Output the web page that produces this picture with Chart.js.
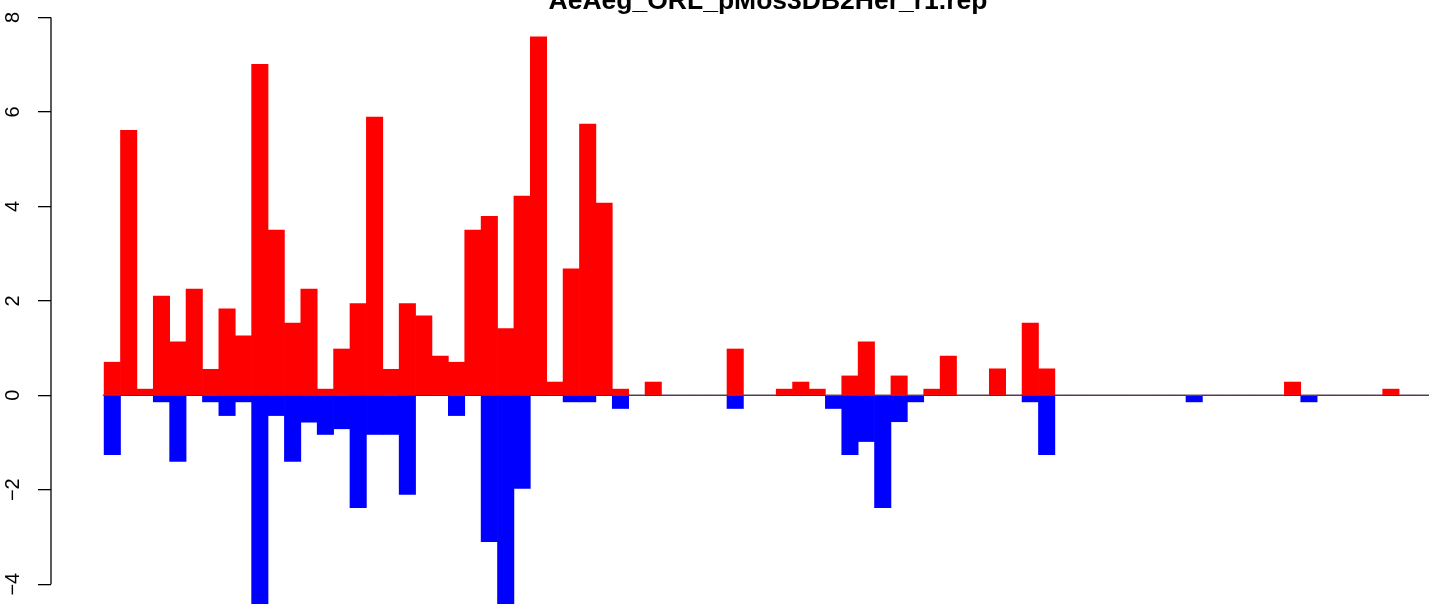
<!DOCTYPE html>
<html>
<head>
<meta charset="utf-8">
<script src="https://cdn.jsdelivr.net/npm/chart.js@4/dist/chart.umd.min.js"></script>
<style>
  html, body { margin: 0; padding: 0; background: #ffffff; overflow: hidden; }
  #wrap { width: 1429px; height: 604px; overflow: hidden; position: relative; }
  #c { position: absolute; left: 0; top: 0; }
</style>
</head>
<body>
<div id="wrap"><canvas id="c" width="1485" height="604"></canvas></div>
<script>
const chartTitle = 'AeAeg_ORL_pMos3DB2Her_r1.rep';

const categories = Array.from({length: 81}, (_, i) => 'bin' + (i + 1));

const positiveValues = [
  0.70, 5.61, 0.13, 2.10, 1.13, 2.25, 0.55, 1.83, 1.26, 7.01,
  3.50, 1.53, 2.25, 0.13, 0.98, 1.94, 5.89, 0.55, 1.94, 1.68,
  0.83, 0.70, 3.50, 3.79, 1.41, 4.22, 7.59, 0.28, 2.68, 5.74,
  4.07, 0.13, 0, 0.28, 0, 0, 0, 0, 0.98, 0,
  0, 0.13, 0.28, 0.13, 0, 0.41, 1.13, 0, 0.41, 0,
  0.13, 0.83, 0, 0, 0.56, 0, 1.53, 0.56, 0, 0,
  0, 0, 0, 0, 0, 0, 0, 0, 0, 0,
  0, 0, 0.28, 0, 0, 0, 0, 0, 0.13, 0,
  0
];

const negativeValues = [
  -1.26, 0, 0, -0.14, -1.40, 0, -0.14, -0.43, -0.14, -4.60,
  -0.43, -1.40, -0.57, -0.83, -0.71, -2.38, -0.83, -0.83, -2.10, 0,
  0, -0.43, 0, -3.10, -4.60, -1.97, 0, 0, -0.14, -0.14,
  0, -0.28, 0, 0, 0, 0, 0, 0, -0.28, 0,
  0, 0, 0, 0, -0.28, -1.26, -0.98, -2.38, -0.56, -0.14,
  0, 0, 0, 0, 0, 0, -0.14, -1.26, 0, 0,
  0, 0, 0, 0, 0, 0, -0.14, 0, 0, 0,
  0, 0, 0, -0.14, 0, 0, 0, 0, 0, 0,
  0
];

const yTickValues = [-4, -2, 0, 2, 4, 6, 8];
const yTickLabels = ['\u22124', '\u22122', '0', '2', '4', '6', '8'];

const N = categories.length;
const toPoints = arr => arr.map((v, i) => ({x: i + 0.5, y: v}));

const axisAndZeroLine = {
  id: 'axisAndZeroLine',
  beforeDatasetsDraw(chart) {
    const {ctx, scales: {x, y}, chartArea} = chart;
    const y0 = y.getPixelForValue(0);
    ctx.save();
    ctx.strokeStyle = '#666666';
    ctx.lineWidth = 1.5;
    ctx.beginPath();
    ctx.moveTo(x.getPixelForValue(0) - 1.3, y0);
    ctx.lineTo(chartArea.right, y0);
    ctx.stroke();
    ctx.restore();
  },
  afterDraw(chart) {
    const {ctx, scales: {y}, chartArea} = chart;
    ctx.save();
    ctx.strokeStyle = '#000000';
    ctx.lineWidth = 1.3;
    ctx.beginPath();
    ctx.moveTo(chartArea.left, y.getPixelForValue(yTickValues[yTickValues.length - 1]));
    ctx.lineTo(chartArea.left, y.getPixelForValue(yTickValues[0]));
    ctx.stroke();
    ctx.restore();
  }
};

new Chart(document.getElementById('c'), {
  type: 'bar',
  data: {
    labels: categories,
    datasets: [
      {
        label: 'up',
        data: toPoints(positiveValues),
        backgroundColor: '#FF0000',
        borderWidth: 0,
        grouped: false,
        categoryPercentage: 1,
        barPercentage: 1
      },
      {
        label: 'down',
        data: toPoints(negativeValues),
        backgroundColor: '#0000FF',
        borderWidth: 0,
        grouped: false,
        categoryPercentage: 1,
        barPercentage: 1
      }
    ]
  },
  options: {
    responsive: false,
    animation: false,
    devicePixelRatio: 1,
    layout: { padding: 0 },
    plugins: {
      legend: { display: false },
      tooltip: { enabled: false },
      title: {
        display: true,
        text: chartTitle,
        fullSize: false,
        color: '#000000',
        font: { family: "'Liberation Sans', Arial, Helvetica, sans-serif", size: 26.5, weight: 'bold', lineHeight: 1.2 },
        padding: { top: -14.4, bottom: -17.4 }
      }
    },
    scales: {
      x: {
        type: 'linear',
        display: false,
        offset: false,
        min: -0.04 * N,
        max: N * 1.04
      },
      y: {
        position: 'left',
        min: -4.42,
        max: 8.37,
        afterBuildTicks: scale => { scale.ticks = yTickValues.map(v => ({value: v})); },
        afterFit: scale => {
          scale.width = 51;
          scale.paddingTop = 0;
          scale.paddingBottom = 0;
          scale.paddingLeft = 0;
          scale.paddingRight = 0;
        },
        border: { display: false },
        grid: {
          drawOnChartArea: false,
          drawTicks: true,
          tickLength: 13,
          color: '#000000',
          lineWidth: 1.3
        },
        ticks: {
          minRotation: 90,
          maxRotation: 90,
          crossAlign: 'center',
          padding: 13.6,
          color: '#000000',
          font: { family: "'Liberation Sans', Arial, Helvetica, sans-serif", size: 20 },
          callback: value => {
            const idx = yTickValues.indexOf(value);
            return idx >= 0 ? yTickLabels[idx] : '';
          }
        }
      }
    }
  },
  plugins: [axisAndZeroLine]
});
</script>
</body>
</html>
